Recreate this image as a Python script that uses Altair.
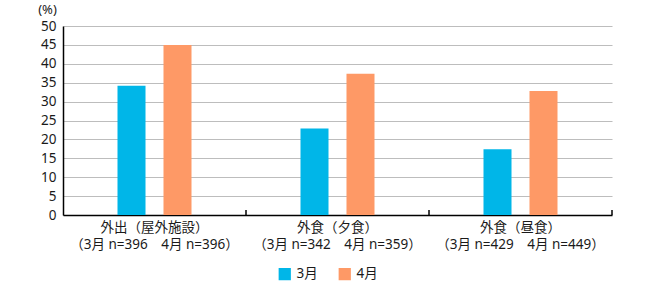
import altair as alt
import pandas as pd

categories = ["外出（屋外施設）|（3月 n=396　4月 n=396）",
              "外食（夕食）|（3月 n=342　4月 n=359）",
              "外食（昼食）|（3月 n=429　4月 n=449）"]
series = ["3月", "4月"]
march = [34.2, 22.9, 17.4]
april = [45.0, 37.4, 32.8]
colors = ["#00b6e8", "#fe9966"]

rows = []
for c, m, a in zip(categories, march, april):
    rows.append({"cat": c, "series": "3月", "value": m})
    rows.append({"cat": c, "series": "4月", "value": a})
df = pd.DataFrame(rows)

FONT = "Noto Sans, Noto Sans CJK JP"

xscale = alt.Scale(domain=categories, paddingInner=0, paddingOuter=0)
offset_domain = ["_a"] + series + ["_b"]

bars = alt.Chart(df).mark_bar().encode(
    x=alt.X("cat:N", scale=xscale, sort=categories,
            axis=alt.Axis(title=None, labelAngle=0, ticks=False,
                          labelExpr="split(datum.label, '|')",
                          labelFont=FONT, labelFontSize=13.5, labelColor="#1a1a1a",
                          labelLineHeight=17, labelPadding=5,
                          domainColor="#000000", domainWidth=1.5)),
    xOffset=alt.XOffset("series:N", scale=alt.Scale(domain=offset_domain, paddingInner=0.391, paddingOuter=0.185)),
    y=alt.Y("value:Q", scale=alt.Scale(domain=[0, 50], nice=False),
            axis=alt.Axis(values=list(range(0, 51, 5)), title="(%)", titleAngle=0,
                          titleX=-16, titleY=-13, titleAlign="center", titleBaseline="alphabetic",
                          titleFont=FONT, titleFontSize=13, titleFontWeight="normal", titleColor="#1a1a1a",
                          labelFont=FONT, labelFontSize=13.5, labelColor="#1a1a1a", labelPadding=7,
                          ticks=False, grid=True, gridColor="#bdbdbd", gridWidth=1,
                          domainColor="#000000", domainWidth=1.5)),
    color=alt.Color("series:N", scale=alt.Scale(domain=series, range=colors),
                    legend=alt.Legend(title=None, orient="none", direction="horizontal",
                                      legendX=215, legendY=241, symbolType="square",
                                      symbolSize=150, symbolStrokeWidth=0,
                                      labelFont=FONT, labelFontSize=13.5, labelColor="#1a1a1a",
                                      columnPadding=20, labelOffset=5)),
)

tick_df = pd.DataFrame({"cat": categories})
ticks = alt.Chart(tick_df).mark_rule(color="#000000", strokeWidth=1.5).encode(
    x=alt.X("cat:N", scale=xscale, sort=categories, bandPosition=1),
    y=alt.value(184),
    y2=alt.value(189),
)

chart = alt.layer(bars, ticks).properties(
    width=549, height=189,
    autosize=alt.AutoSizeParams(type="none"),
    padding={"left": 63, "top": 26, "right": 38, "bottom": 75},
).configure_view(stroke=None)

chart.save("out.html", embed_options={"renderer": "svg", "actions": False})
